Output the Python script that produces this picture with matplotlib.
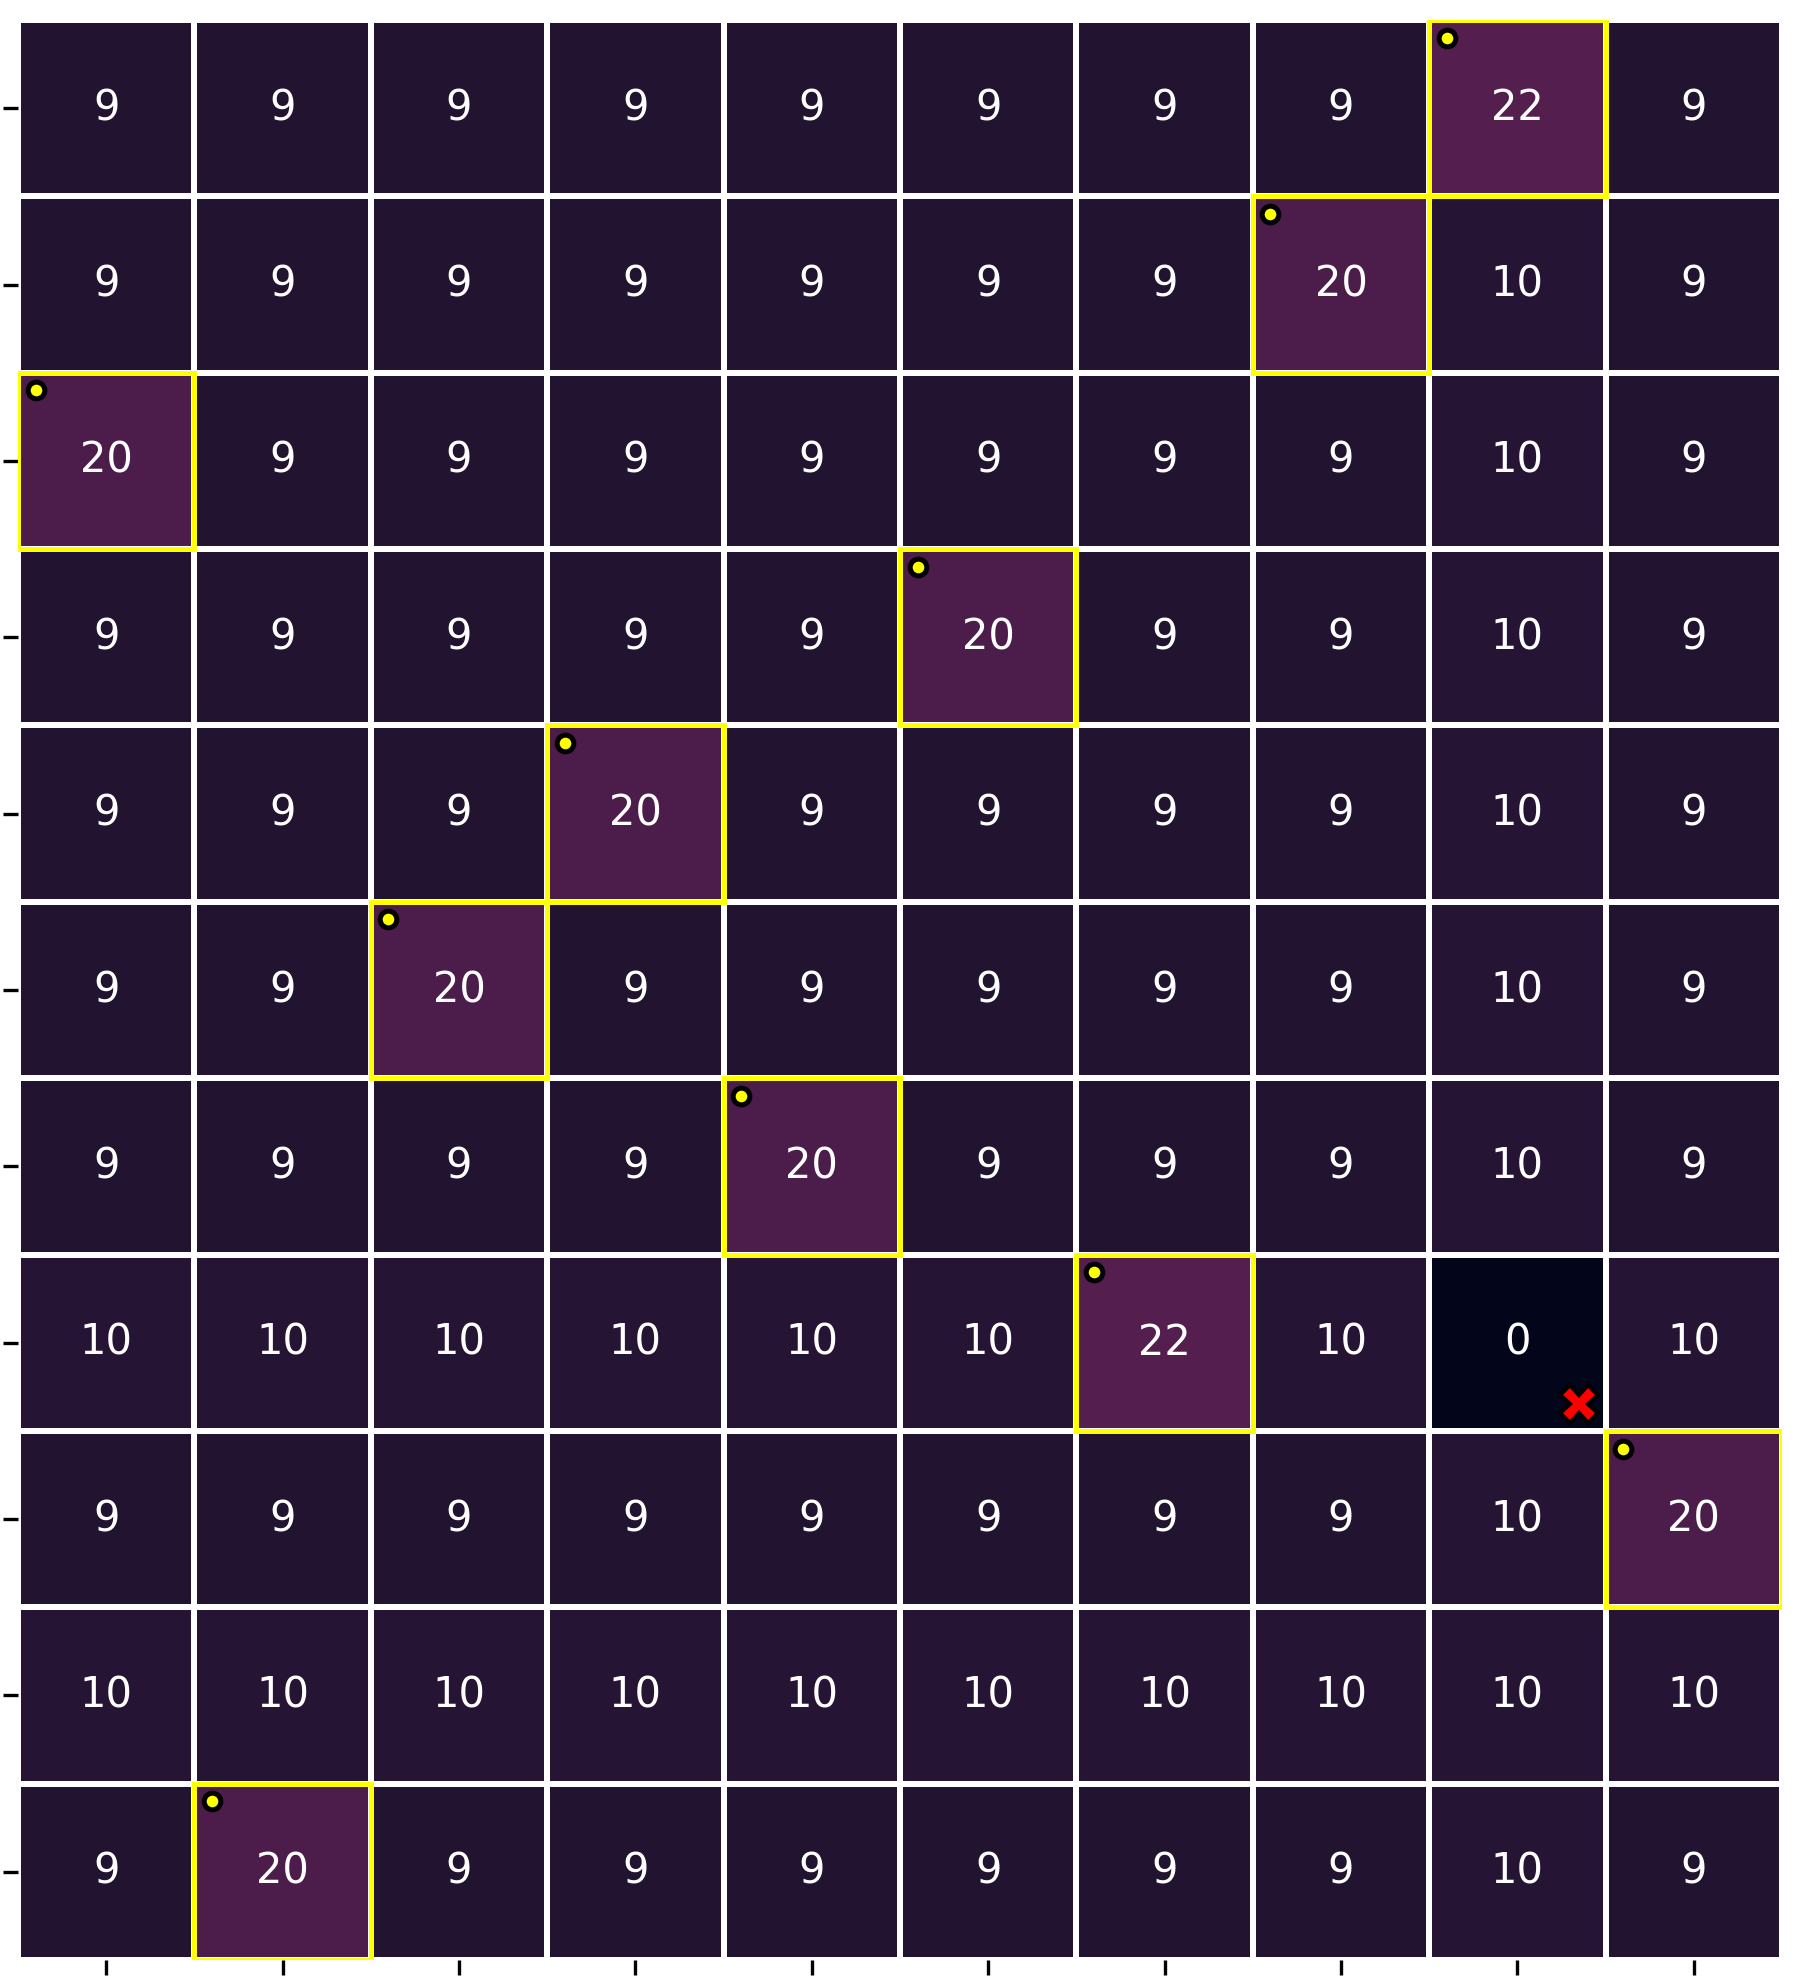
import numpy as np
import matplotlib
matplotlib.use("Agg")
import matplotlib.pyplot as plt
import seaborn as sns
from matplotlib.patches import Rectangle

# grid values (rows top to bottom)
row_0 = [9, 9, 9, 9, 9, 9, 9, 9, 22, 9]
row_1 = [9, 9, 9, 9, 9, 9, 9, 20, 10, 9]
row_2 = [20, 9, 9, 9, 9, 9, 9, 9, 10, 9]
row_3 = [9, 9, 9, 9, 9, 20, 9, 9, 10, 9]
row_4 = [9, 9, 9, 20, 9, 9, 9, 9, 10, 9]
row_5 = [9, 9, 20, 9, 9, 9, 9, 9, 10, 9]
row_6 = [9, 9, 9, 9, 20, 9, 9, 9, 10, 9]
row_7 = [10, 10, 10, 10, 10, 10, 22, 10, 0, 10]
row_8 = [9, 9, 9, 9, 9, 9, 9, 9, 10, 20]
row_9 = [10, 10, 10, 10, 10, 10, 10, 10, 10, 10]
row_10 = [9, 20, 9, 9, 9, 9, 9, 9, 10, 9]

# highlighted cells (row, col)
highlight_rows = [0, 1, 2, 3, 4, 5, 6, 7, 8, 10]
highlight_cols = [8, 7, 0, 5, 3, 2, 4, 6, 9, 1]

# red cross cell
cross_row = 7
cross_col = 8

grid = np.array([row_0, row_1, row_2, row_3, row_4, row_5,
                 row_6, row_7, row_8, row_9, row_10], dtype=float)

fig = plt.figure(figsize=(6, 6.6), dpi=300)
ax = fig.add_axes([0.01, 0.0101, 0.98, 0.9798])

sns.heatmap(
    grid,
    ax=ax,
    cmap="rocket",
    vmin=0,
    vmax=100,
    annot=True,
    fmt=".0f",
    annot_kws={"fontsize": 10},
    linewidths=1,
    linecolor="white",
    cbar=False,
    xticklabels=[""] * grid.shape[1],
    yticklabels=[""] * grid.shape[0],
)

for r, c in zip(highlight_rows, highlight_cols):
    ax.add_patch(Rectangle((c, r), 1, 1, fill=False, edgecolor="yellow", lw=1.2, zorder=3))
    ax.plot(c + 0.1, r + 0.1, "o", color="yellow", markeredgecolor="black",
            markersize=4, markeredgewidth=1.2, zorder=4)

ax.plot(cross_col + 0.85, cross_row + 0.85, "X", color="red", markeredgecolor="black",
        markersize=9, markeredgewidth=1, zorder=4)

fig.savefig("out.png", dpi=300)
